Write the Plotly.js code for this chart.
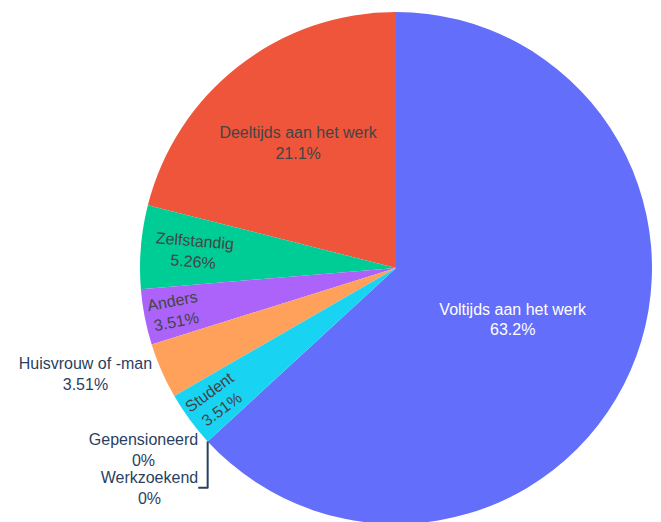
<!DOCTYPE html>
<html>
<head>
<meta charset="utf-8">
<script src="https://cdn.plot.ly/plotly-3.0.1.min.js"></script>
<style>html,body{margin:0;padding:0;background:#fff;overflow:hidden;}#chart{width:661px;height:522px;overflow:hidden;}</style>
</head>
<body>
<div id="chart"></div>
<script>
const labels = ["Voltijds aan het werk", "Deeltijds aan het werk", "Zelfstandig", "Anders", "Huisvrouw of -man", "Student", "Gepensioneerd", "Werkzoekend"];
const values = [36, 12, 3, 2, 2, 2, 0, 0];
const colors = ["#636efa", "#EF553B", "#00cc96", "#ab63fa", "#FFA15A", "#19d3f3", "#FF6692", "#B6E880"];

Plotly.newPlot("chart", [{
  type: "pie",
  labels: labels,
  values: values,
  marker: {colors: colors},
  textinfo: "label+percent",
  sort: false,
  direction: "counterclockwise",
  showlegend: false
}], {
  width: 661,
  height: 524,
  margin: {l: 131, r: 0, t: 12, b: 0},
  paper_bgcolor: "#fff",
  font: {family: "Liberation Sans, Arial, sans-serif", size: 16, color: "#2a3f5f"},
  showlegend: false
}, {displayModeBar: false});
</script>
</body>
</html>
